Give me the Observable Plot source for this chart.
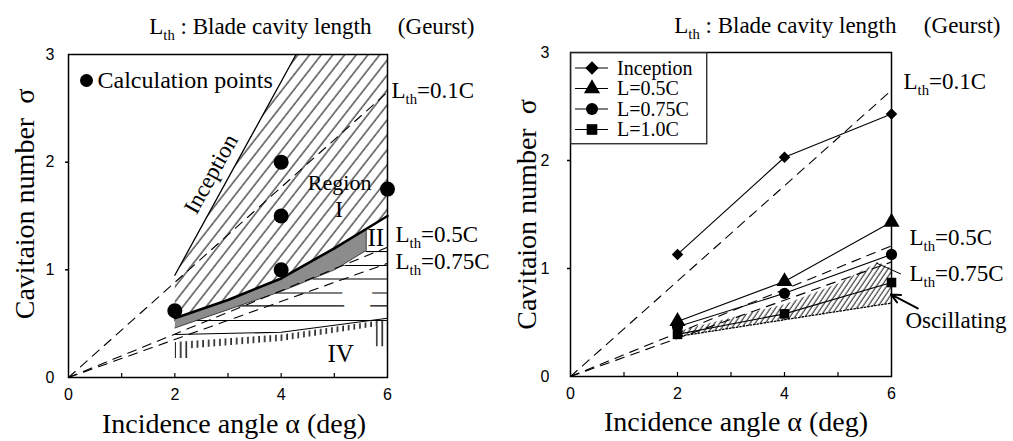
<!DOCTYPE html>
<html>
<head>
<meta charset="utf-8">
<script src="https://cdn.jsdelivr.net/npm/d3@7"></script>
<script src="https://cdn.jsdelivr.net/npm/@observablehq/plot@0.6"></script>
<style>
  body { margin: 0; background: #fff; }
  #wrap { position: relative; width: 1013px; height: 441px; display: flex; }
  .panel { position: relative; }
</style>
</head>
<body>
<svg width="0" height="0" style="position:absolute">
  <defs>
    <pattern id="hatchI" patternUnits="userSpaceOnUse" width="9.2" height="20" patternTransform="rotate(38)">
      <line x1="1" y1="0" x2="1" y2="20" stroke="#000" stroke-width="1"/>
    </pattern>
    <pattern id="hatchO" patternUnits="userSpaceOnUse" width="4.2" height="20" patternTransform="rotate(34)">
      <line x1="1" y1="0" x2="1" y2="20" stroke="#000" stroke-width="0.9"/>
    </pattern>
    <pattern id="hatchV" patternUnits="userSpaceOnUse" width="5.6" height="20">
      <line x1="1" y1="0" x2="1" y2="20" stroke="#000" stroke-width="1.4"/>
    </pattern>
  </defs>
</svg>
<div id="wrap"><div class="panel" id="left"></div><div class="panel" id="right"></div></div>
<script>
// ---------------- data ----------------
const xDomain = [0, 6];
const yDomain = [0, 3];
const alphaTickLabels = [0, 2, 4, 6];
const sigmaTickLabels = [0, 1, 2, 3];
const minorAlphaTicks = [1, 2, 3, 4, 5];
const minorSigmaTicks = [1, 2];

// Geurst theory lines (blade cavity length L_th), straight from origin
const geurstNames = ["0.1C", "0.5C", "0.75C"];
const geurstAlphaEnds = [0, 6];
const geurstSigmaAt6 = [2.65, 1.21, 1.06];

// Left panel: calculation
const calcAlpha = [2, 4, 4, 4, 6];
const calcSigma = [0.62, 2.0, 1.5, 1.0, 1.75];
const inceptionAlpha = [2, 4.28];
const inceptionSigma = [0.95, 3.0];
const regionIAlpha = [2, 4.28, 6, 6, 5, 4, 3, 2];
const regionISigma = [0.95, 3.0, 3.0, 1.5, 1.2, 0.92, 0.72, 0.55];
const bandUpperAlpha = [2, 3, 4, 5, 6];
const bandUpperSigma = [0.55, 0.72, 0.92, 1.2, 1.5];
const bandAlpha = [2, 3, 4, 5, 5.6, 5.6, 5, 4, 3, 2];
const bandSigma = [0.55, 0.72, 0.92, 1.2, 1.38, 1.18, 1.0, 0.8, 0.63, 0.46];
const regionIIILevels = [0.53, 0.665, 0.785, 0.915, 1.04, 1.17];
const regionIIIStart = [2.0, 3.2, 3.9, 4.6, 5.2, 5.6];
const regionIVTopAlpha = [2, 4, 6];
const regionIVTopSigma = [0.40, 0.42, 0.55];
const regionIVHatchAlpha = [2, 4, 6, 6, 5.78, 5.78, 4, 2.25, 2.25, 2];
const regionIVHatchSigma = [0.33, 0.40, 0.54, 0.29, 0.29, 0.475, 0.34, 0.27, 0.18, 0.18];

// Right panel: experiment
const expAlpha = [2, 4, 6];
const expSeries = ["Inception", "L=0.5C", "L=0.75C", "L=1.0C"];
const expInception = [1.13, 2.03, 2.43];
const expL05 = [0.51, 0.88, 1.43];
const expL075 = [0.46, 0.77, 1.13];
const expL10 = [0.39, 0.58, 0.87];
const expSymbols = ["diamond2", "triangle", "circle", "square"];
const oscAlpha = [2, 4, 5, 5.75, 6, 6, 4.7, 2];
const oscSigma = [0.42, 0.67, 0.86, 1.06, 1.0, 0.68, 0.58, 0.37];
const oscLowerAlpha = [2, 4.7, 6];
const oscLowerSigma = [0.37, 0.58, 0.68];
const leaderAlpha = [5.72, 6.17];
const leaderSigma = [1.05, 0.95];
const arrowFrom = [6.49, 0.63];
const arrowTo = [5.99, 0.76];

// ---------------- helpers ----------------
const F = '"Liberation Serif", "Times New Roman", serif';
const S = '"Liberation Sans", Arial, sans-serif';
const pts = (xs, ys) => xs.map((a, i) => ({a, s: ys[i]}));
const geurst = geurstNames.flatMap((n, i) => [
  {a: geurstAlphaEnds[0], s: 0, n},
  {a: geurstAlphaEnds[1], s: geurstSigmaAt6[i], n}
]);

function subscriptTh(svg, shift) {
  const ns = "http://www.w3.org/2000/svg";
  svg.querySelectorAll("text").forEach(t => {
    const s = t.textContent;
    if (!s.includes("_th")) return;
    const [a, b] = s.split("_th");
    while (t.firstChild) t.removeChild(t.firstChild);
    const t1 = document.createElementNS(ns, "tspan"); t1.textContent = a;
    const t2 = document.createElementNS(ns, "tspan"); t2.textContent = "th";
    t2.setAttribute("font-size", "0.64em"); t2.setAttribute("dy", shift); t2.setAttribute("fill", "#000");
    const t3 = document.createElementNS(ns, "tspan"); t3.textContent = b;
    t3.setAttribute("dy", -shift);
    t.append(t1, t2, t3);
  });
}

function commonMarks(o) {
  return [
    Plot.frame({stroke: "#000", strokeWidth: 1.5}),
    Plot.axisX({ticks: alphaTickLabels, tickFormat: d3.format("d"), tickSize: 0, tickPadding: 11, fontSize: 16, fontFamily: S, label: null}),
    Plot.axisX({ticks: minorAlphaTicks, tickSize: -4, tickFormat: () => "", label: null, strokeWidth: 1.2}),
    Plot.axisY({ticks: sigmaTickLabels, tickFormat: d3.format("d"), tickSize: 0, tickPadding: o.yPad, fontSize: 16, fontFamily: S, label: null}),
    Plot.axisY({ticks: minorSigmaTicks, tickSize: 3, tickFormat: () => "", label: null, strokeWidth: 1.5}),
    Plot.text(["L_th : Blade cavity length"], {frameAnchor: "top-right", textAnchor: "end", lineAnchor: "bottom",
      dx: o.t1dx, dy: o.tdy, fontSize: 23, fontFamily: F}),
    Plot.text(["(Geurst)"], {frameAnchor: "top-right", textAnchor: "end", lineAnchor: "bottom",
      dx: o.t2dx, dy: o.tdy, fontSize: 23, fontFamily: F}),
    Plot.text(["Incidence angle α (deg)"], {frameAnchor: "bottom", textAnchor: "middle", lineAnchor: "bottom",
      dx: o.xlDx, dy: o.xlDy, fontSize: 28, fontFamily: F}),
    Plot.text(["Cavitaion number\u00a0\u00a0σ"], {frameAnchor: "left", rotate: -90, textAnchor: "middle", lineAnchor: "middle",
      dx: o.ylDx, dy: o.ylDy, fontSize: 28, fontFamily: F})
  ];
}

function thLabels(labels) {
  return labels.map(l => Plot.text([l.text], {x: () => xDomain[1], y: () => l.s, dx: l.dx,
    textAnchor: "start", lineAnchor: "middle", fontSize: 23, fontFamily: F}));
}

// ---------------- left panel ----------------
const leftLabels = [
  {text: "L_th=0.1C", s: 2.66, dx: 4},
  {text: "L_th=0.5C", s: 1.33, dx: 8},
  {text: "L_th=0.75C", s: 1.08, dx: 8}
];
const left = Plot.plot({
  width: 500, height: 441,
  marginLeft: 68, marginRight: 113, marginTop: 54, marginBottom: 64,
  x: {domain: xDomain, label: null},
  y: {domain: yDomain, label: null},
  style: {background: "white", color: "#000"},
  marks: [
    Plot.line(pts(regionIAlpha, regionISigma), {x: "a", y: "s", fill: "url(#hatchI)", stroke: "none"}),
    Plot.line(pts(regionIVHatchAlpha, regionIVHatchSigma), {x: "a", y: "s", fill: "url(#hatchV)", stroke: "none"}),
    Plot.ruleY(regionIIILevels.map((s, i) => ({s, a1: regionIIIStart[i]})),
      {y: "s", x1: "a1", x2: () => xDomain[1], stroke: "#000", strokeWidth: 1.1}),
    Plot.line(pts(bandAlpha, bandSigma), {x: "a", y: "s", fill: "#8c8c8c", stroke: "#222", strokeWidth: 0.8}),
    Plot.line(pts(bandUpperAlpha, bandUpperSigma), {x: "a", y: "s", stroke: "#000", strokeWidth: 2.6}),
    Plot.line(pts(regionIVTopAlpha, regionIVTopSigma), {x: "a", y: "s", stroke: "#000", strokeWidth: 1.1}),
    Plot.line(geurst, {x: "a", y: "s", z: "n", stroke: "#000", strokeWidth: 1.1, strokeDasharray: "9,7"}),
    Plot.line(pts(inceptionAlpha, inceptionSigma), {x: "a", y: "s", stroke: "#000", strokeWidth: 1.3}),
    Plot.dot(pts(calcAlpha, calcSigma), {x: "a", y: "s", r: 7.5, fill: "#000", stroke: "none"}),
    // region labels
    Plot.text(["Inception"], {x: () => 2.68, y: () => 1.89, rotate: -61, fontSize: 23, fontFamily: F}),
    Plot.text(["Region"], {x: () => 5.1, y: () => 1.81, fontSize: 22, fontFamily: F}),
    Plot.text(["I"], {x: () => 5.09, y: () => 1.56, fontSize: 24, fontFamily: F}),
    Plot.text(["II"], {x: () => 5.78, y: () => 1.3, fontSize: 25, fontFamily: F}),
    Plot.text(["III"], {x: () => 5.43, y: () => 0.69, fontSize: 25, fontFamily: F, stroke: "white", strokeWidth: 7, paintOrder: "stroke"}),
    Plot.text(["IV"], {x: () => 5.12, y: () => 0.22, fontSize: 25, fontFamily: F}),
    ...thLabels(leftLabels),
    // legend
    Plot.dot({length: 1}, {frameAnchor: "top-left", dx: 18, dy: 26, r: 6.5, fill: "#000", stroke: "none"}),
    Plot.text(["Calculation points"], {frameAnchor: "top-left", dx: 29, dy: 26, textAnchor: "start", lineAnchor: "middle", fontSize: 24, fontFamily: F}),
    ...commonMarks({yPad: 14, t1dx: -16, t2dx: 87, tdy: -21, xlDx: 6, xlDy: 55, ylDx: -43, ylDy: -12})
  ]
});
subscriptTh(left, 6);
document.getElementById("left").append(left);

// ---------------- right panel ----------------
const expValues = [expInception, expL05, expL075, expL10];
const expData = expSeries.map((n, i) => expAlpha.map((a, j) => ({a, s: expValues[i][j], n})));
const symbolR = {"diamond2": 5.2, "triangle": 6, "circle": 5.6, "square": 5.4};
const rightLabels = [
  {text: "L_th=0.1C", s: 2.73, dx: 12},
  {text: "L_th=0.5C", s: 1.29, dx: 18},
  {text: "L_th=0.75C", s: 0.955, dx: 18}
];
const right = Plot.plot({
  width: 513, height: 441,
  marginLeft: 70, marginRight: 122, marginTop: 52, marginBottom: 65,
  x: {domain: xDomain, label: null},
  y: {domain: yDomain, label: null},
  style: {background: "white", color: "#000"},
  marks: [
    Plot.line(pts(oscAlpha, oscSigma), {x: "a", y: "s", fill: "url(#hatchO)", stroke: "none"}),
    Plot.line(pts(oscLowerAlpha, oscLowerSigma), {x: "a", y: "s", stroke: "#000", strokeWidth: 1.3, strokeDasharray: "1.5,2"}),
    Plot.line(geurst, {x: "a", y: "s", z: "n", stroke: "#000", strokeWidth: 1.1, strokeDasharray: "9,7"}),
    ...expData.map((d, i) => Plot.line(d, {x: "a", y: "s", stroke: "#000", strokeWidth: 1.1})),
    ...expData.map((d, i) => Plot.dot(d, {x: "a", y: "s", symbol: expSymbols[i], r: symbolR[expSymbols[i]], fill: "#000", stroke: "none"})),
    Plot.line(pts(leaderAlpha, leaderSigma), {x: "a", y: "s", stroke: "#000", strokeWidth: 1}),
    Plot.arrow([{x1: arrowFrom[0], y1: arrowFrom[1], x2: arrowTo[0], y2: arrowTo[1]}],
      {x1: "x1", y1: "y1", x2: "x2", y2: "y2", stroke: "#000", strokeWidth: 2, headLength: 15, headAngle: 50}),
    ...thLabels(rightLabels),
    Plot.text(["Oscillating"], {x: () => xDomain[1], y: () => 0.52, dx: 14, textAnchor: "start", lineAnchor: "middle", fontSize: 23, fontFamily: F}),
    ...commonMarks({yPad: 21, t1dx: 5, t2dx: 109, tdy: -20, xlDx: 5, xlDy: 54, ylDx: -43, ylDy: 0})
  ]
});
subscriptTh(right, 6);
document.getElementById("right").append(right);

// legend box (right panel)
const symbolMap = {"diamond2": d3.symbolDiamond2, "triangle": d3.symbolTriangle, "circle": d3.symbolCircle, "square": d3.symbolSquare};
const lg = d3.select("#right").append("svg")
  .attr("width", 138).attr("height", 93)
  .style("position", "absolute").style("left", "70px").style("top", "52px");
lg.append("rect").attr("x", 0.75).attr("y", 0.75).attr("width", 136).attr("height", 91)
  .attr("fill", "white").attr("stroke", "#222").attr("stroke-width", 1.3);
expSeries.forEach((name, i) => {
  const cy = 16 + i * 20.5;
  lg.append("line").attr("x1", 5).attr("x2", 38).attr("y1", cy).attr("y2", cy).attr("stroke", "#000").attr("stroke-width", 1.1);
  lg.append("path").attr("transform", `translate(22,${cy})`)
    .attr("d", d3.symbol(symbolMap[expSymbols[i]], Math.PI * 6 * 6)()).attr("fill", "#000");
  lg.append("text").attr("x", 47).attr("y", cy).attr("dy", "0.34em").text(name)
    .style("font-family", F).style("font-size", "20px");
});
</script>
</body>
</html>
